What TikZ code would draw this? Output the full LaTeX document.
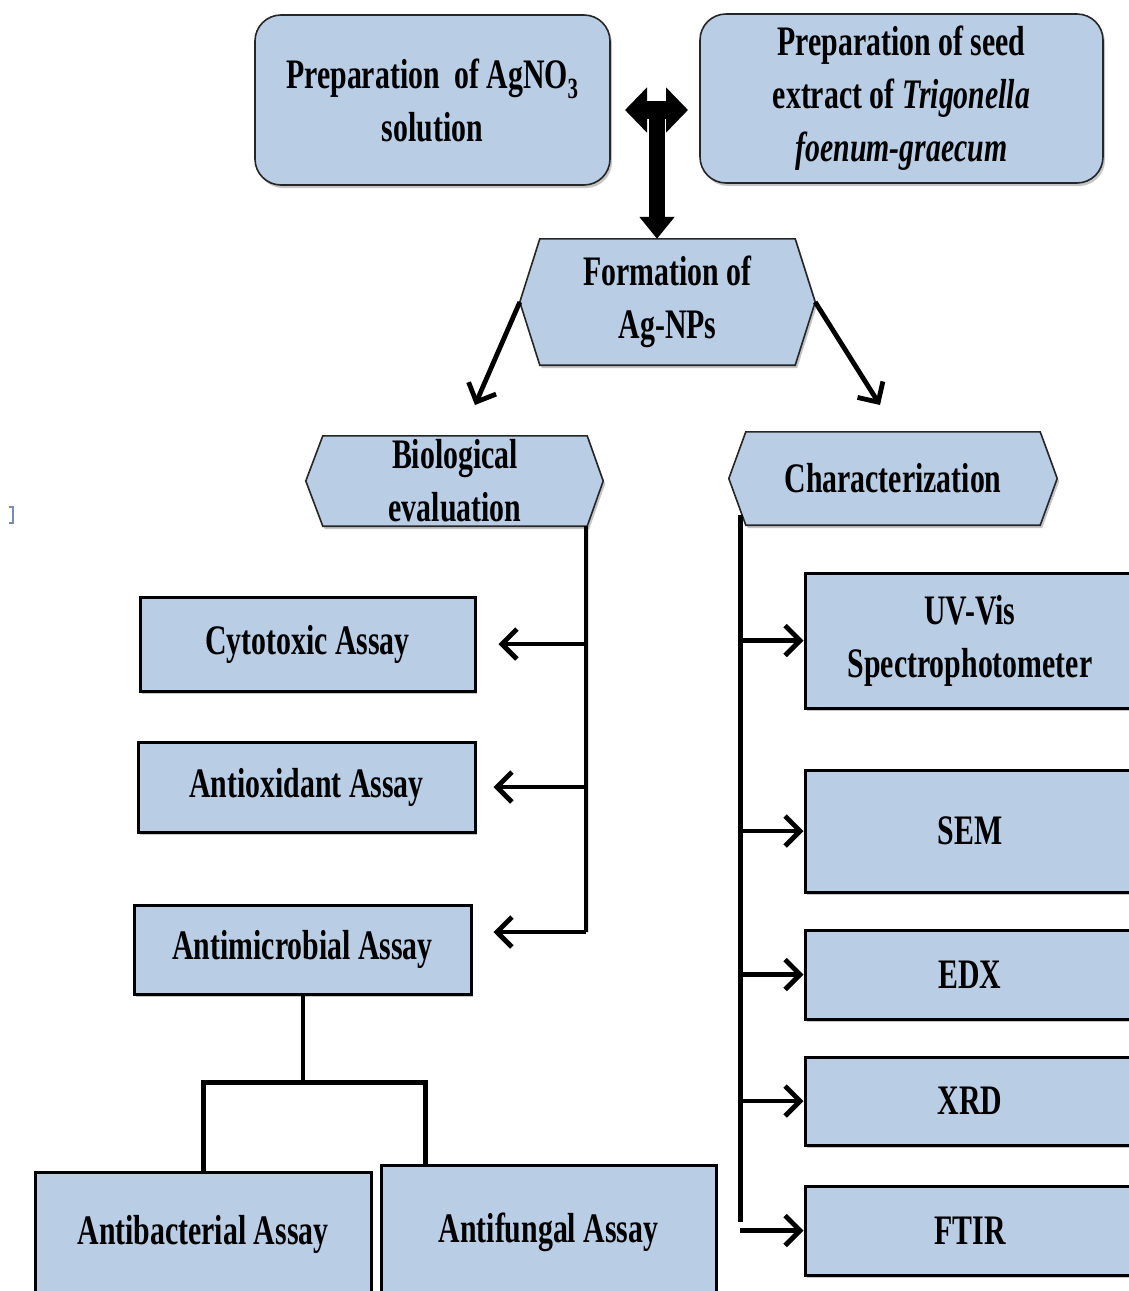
\documentclass[tikz,border=0pt]{standalone}
\usepackage{fontspec}
\setmainfont{Liberation Serif}[FakeStretch=0.71]
\usetikzlibrary{arrows.meta,shadows,calc}
\definecolor{boxblue}{RGB}{185,205,229}
\definecolor{markblue}{RGB}{120,140,175}
\pgfdeclarelayer{background}
\pgfsetlayers{background,main}
\begin{document}
\begin{tikzpicture}[x=1pt,y=-1pt,
  font=\fontsize{42}{53}\selectfont\bfseries,
  shad/.style={drop shadow={shadow xshift=2pt,shadow yshift=-3pt,opacity=.45}},
  rbox/.style={draw=black!85, line width=1.6pt, fill=boxblue, rounded corners=26pt, shad, align=center, inner sep=0pt},
  sbox/.style={draw=black, line width=3pt, fill=boxblue, shad, align=center, inner sep=0pt},
  hexlabel/.style={align=center, inner sep=0pt},
  hexfill/.style={draw=black!85, line width=1.6pt, fill=boxblue, shad},
  conn/.style={line width=4pt},
  arr/.style={line width=4.8pt, -{Straight Barb[length=15pt,width=30pt]}},
  dblarrow/.style={line width=18pt, {Triangle[length=22pt,width=44pt]}-{Triangle[length=22pt,width=44pt]}},
  downarrow/.style={line width=16pt, -{Triangle[length=22pt,width=34pt]}},
]
\useasboundingbox (0,0) rectangle (1129,1291);
\begin{pgfonlayer}{background}
\fill[white] (0,0) rectangle (1129,1291);
\end{pgfonlayer}

% top boxes
\node[rbox, minimum width=355pt, minimum height=170pt] (agno) at (432.5,100)
  {Preparation\, of AgNO\textsubscript{3}\\solution};
\node[rbox, minimum width=403pt, minimum height=169pt] (seed) at (901.5,98.5)
  {Preparation of seed\\extract of \textit{Trigonella}\\\textit{foenum-graecum}};

% hexagon labels
\node[hexlabel, minimum width=255pt, minimum height=126pt] (form) at (667.5,302) {Formation of\\Ag-NPs};
\node[hexlabel, minimum width=264pt, minimum height=90pt] (bio) at (455,481) {Biological\\evaluation};
\node[hexlabel, minimum width=294pt, minimum height=93pt] (char) at (893,478.5) {Characterization};

\begin{pgfonlayer}{background}
\path[hexfill] (form.north west) -- (form.north east) -- ($(form.east)+(20,0)$) -- (form.south east)
  -- (form.south west) -- ($(form.west)+(-20,0)$) -- cycle;
\path[hexfill] (bio.north west) -- (bio.north east) -- ($(bio.east)+(16,0)$) -- (bio.south east)
  -- (bio.south west) -- ($(bio.west)+(-17,0)$) -- cycle;
\path[hexfill] (char.north west) -- (char.north east) -- ($(char.east)+(17,0)$) -- (char.south east)
  -- (char.south west) -- ($(char.west)+(-17,0)$) -- cycle;
\end{pgfonlayer}

% double arrow
\coordinate (dblL) at (625,110);
\coordinate (dblR) at (688,110);
\coordinate (dblC) at (657,102);
\draw[dblarrow] (dblL) -- (dblR);
\draw[downarrow] (dblC) -- (form.north -| dblC);

% arrows from formation
\coordinate (bioArr) at (475,405);
\coordinate (charArr) at (880,405);
\draw[arr] ($(form.west)+(-20,0)$) -- (bioArr);
\draw[arr] ($(form.east)+(20,0)$) -- (charArr);

% left boxes
\node[sbox, minimum width=335pt, minimum height=94pt] (cyto) at (307.5,644) {Cytotoxic Assay};
\node[sbox, minimum width=337pt, minimum height=90pt] (antiox) at (306.5,787) {Antioxidant Assay};
\node[sbox, minimum width=337pt, minimum height=89pt] (antimic) at (302.5,949.5) {Antimicrobial Assay};
\node[sbox, minimum width=336pt, minimum height=125pt] (antibac) at (203,1234.5) {Antibacterial Assay};
\node[sbox, minimum width=335pt, minimum height=134pt] (antifung) at (548.5,1232) {Antifungal Assay};

% right boxes
\node[sbox, minimum width=330pt, minimum height=135pt] (uv) at (970,640.5) {UV-Vis\\Spectrophotometer};
\node[sbox, minimum width=330pt, minimum height=122pt] (sem) at (970,831) {SEM};
\node[sbox, minimum width=330pt, minimum height=89pt] (edx) at (970,974.5) {EDX};
\node[sbox, minimum width=330pt, minimum height=88pt] (xrd) at (970,1101) {XRD};
\node[sbox, minimum width=330pt, minimum height=89pt] (ftir) at (970,1230.5) {FTIR};

% left spine
\coordinate (ltop) at ($(bio.south east)+(-1,0)$);
\coordinate (lbot) at (586,932);
\draw[conn] (ltop) -- (lbot);
\draw[arr, shorten >=22pt] (cyto.east -| ltop) -- (cyto.east);
\draw[arr, shorten >=17pt] (antiox.east -| ltop) -- (antiox.east);
\draw[arr, shorten >=21pt] (lbot) -- (antimic.east |- lbot);

% tree below antimicrobial
\coordinate (tj) at (antimic.south |- 0,1082);
\coordinate (tjR) at (425,1082);
\draw[conn] (antimic.south) -- (tj);
\draw[line width=5pt] (antibac.north) -- (antibac.north |- tj) -- (tjR) -- (antifung.north -| tjR);

% right spine
\coordinate (rtop) at (740,515);
\coordinate (rbot) at (740,1222);
\draw[line width=5pt] (rtop) -- (rbot);
\foreach \b in {uv,sem,edx,xrd,ftir}{
  \draw[arr] (\b.west -| rtop) -- (\b.west);
}

% small mark at left edge
\draw[markblue, line width=1.8pt] (9,507) -- (13,507) -- (13,523) -- (9,523);
\end{tikzpicture}
\end{document}
